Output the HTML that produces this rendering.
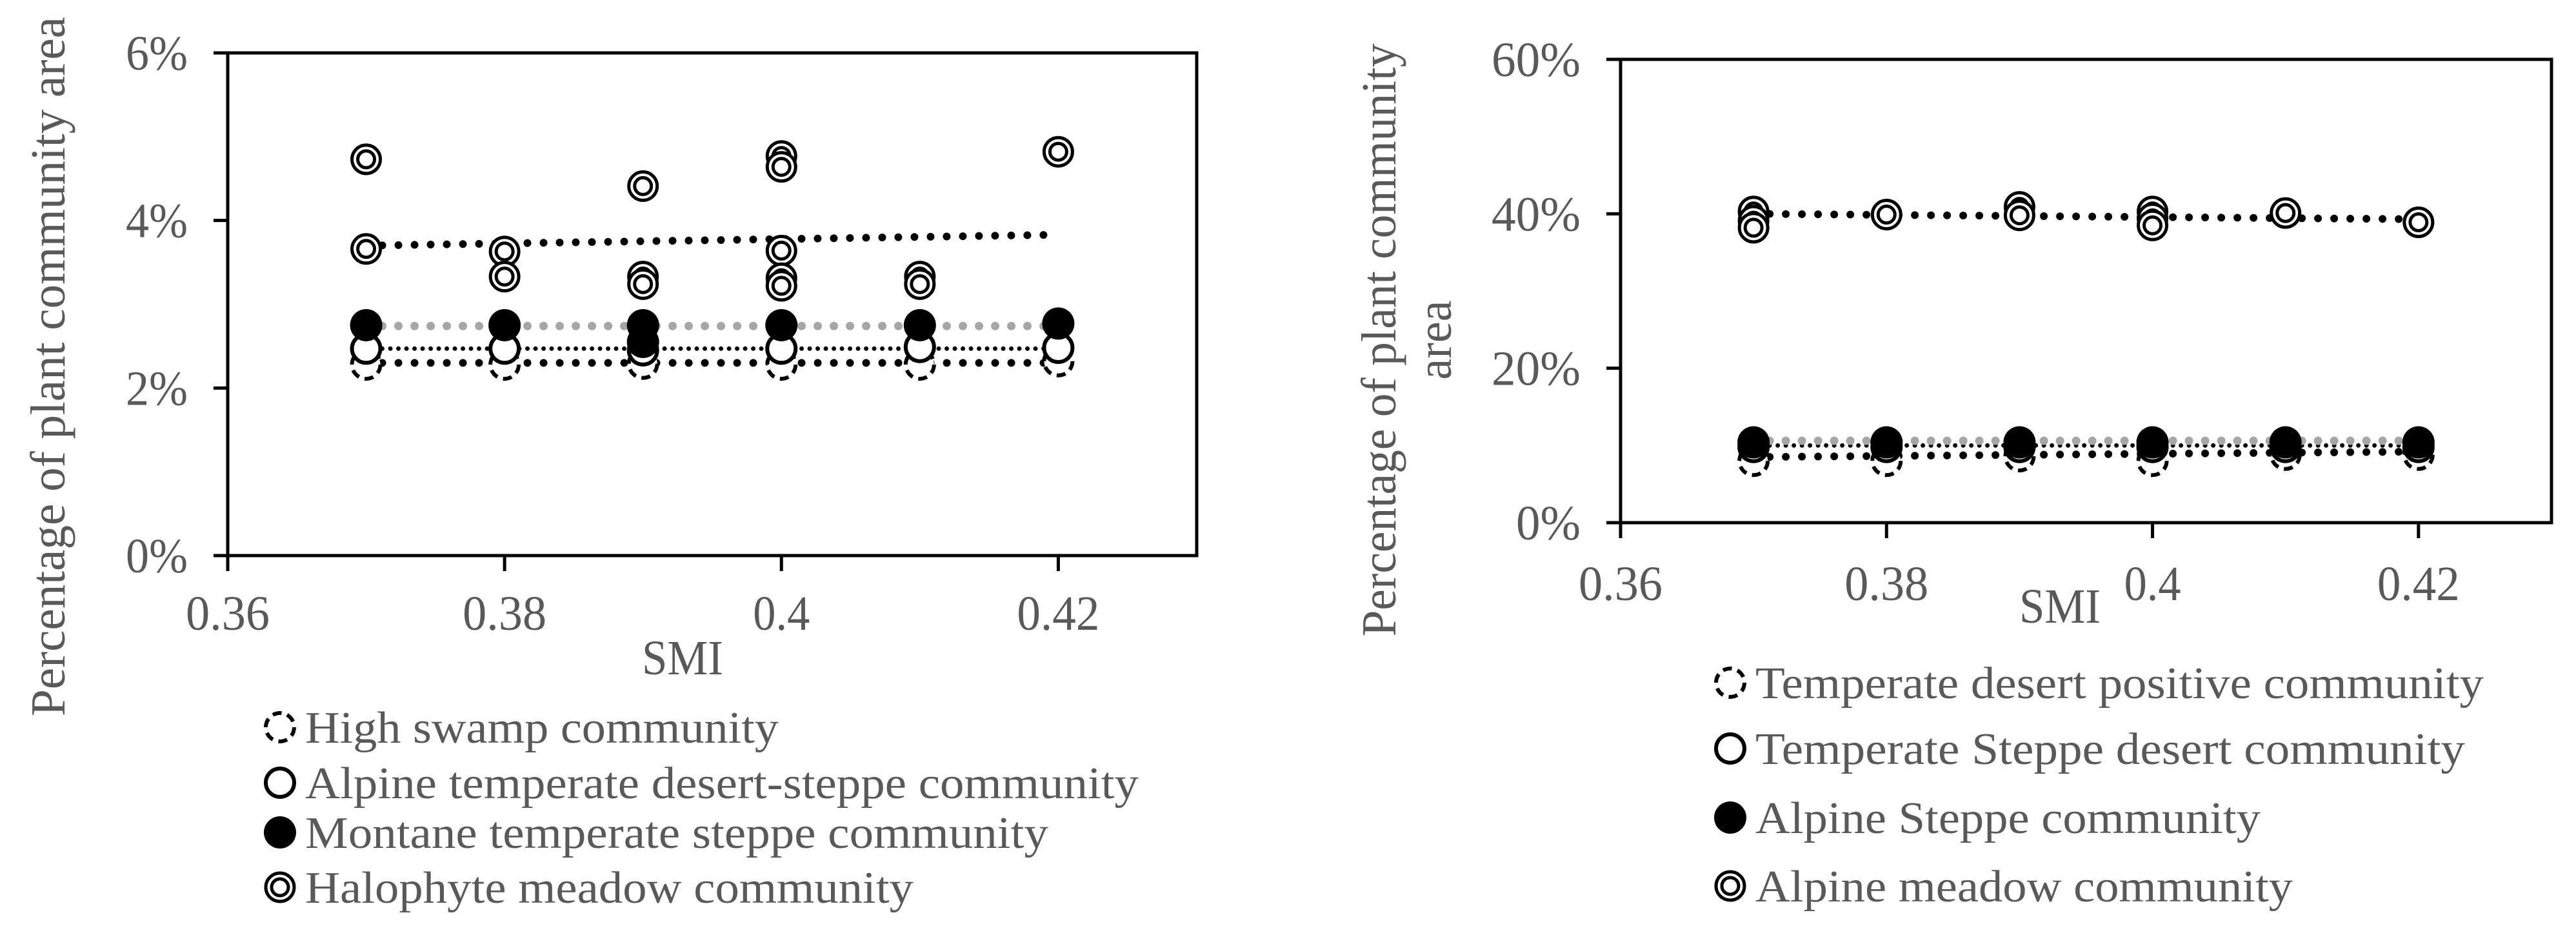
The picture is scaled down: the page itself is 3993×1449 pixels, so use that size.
<!DOCTYPE html>
<html><head><meta charset="utf-8"><style>
html,body{margin:0;padding:0;background:#fff;}
svg{display:block;}
text{font-family:"Liberation Serif",serif;fill:#595959;}
</style></head><body>
<svg id="fig" width="3993" height="1449" viewBox="0 0 3993 1449" xmlns="http://www.w3.org/2000/svg">
<g id="left"></g>
<g id="right"></g>
</svg>
<script>
// ---------- Left chart data ----------
const L_xTicks = [0.36, 0.38, 0.4, 0.42];
const L_xTickLabels = ["0.36", "0.38", "0.4", "0.42"];
const L_yTicks = [0, 2, 4, 6];
const L_yTickLabels = ["0%", "2%", "4%", "6%"];
const L_swampX = [0.37, 0.38, 0.39, 0.40, 0.41, 0.42];
const L_swampY = [2.28, 2.28, 2.29, 2.28, 2.28, 2.32];
const L_alpineX = [0.37, 0.38, 0.39, 0.40, 0.41, 0.42];
const L_alpineY = [2.47, 2.47, 2.45, 2.47, 2.49, 2.48];
const L_montaneX = [0.37, 0.38, 0.39, 0.39, 0.40, 0.41, 0.42];
const L_montaneY = [2.75, 2.75, 2.75, 2.55, 2.75, 2.75, 2.77];
const L_haloX = [0.37, 0.37, 0.38, 0.38, 0.39, 0.39, 0.39, 0.40, 0.40, 0.40, 0.40, 0.40, 0.41, 0.41, 0.42];
const L_haloY = [4.73, 3.66, 3.63, 3.33, 4.41, 3.33, 3.24, 4.77, 4.64, 3.64, 3.31, 3.22, 3.33, 3.24, 4.82];
const L_trendHalo = [3.70, 3.83];
const L_trendMontane = [2.74, 2.74];
const L_trendAlpine = [2.47, 2.47];
const L_trendSwamp = [2.30, 2.30];
const L_legend = ["High swamp community","Alpine temperate desert-steppe community","Montane temperate steppe community","Halophyte meadow community"];

// ---------- Right chart data ----------
const R_xTicks = [0.36, 0.38, 0.4, 0.42];
const R_xTickLabels = ["0.36", "0.38", "0.4", "0.42"];
const R_yTicks = [0, 20, 40, 60];
const R_yTickLabels = ["0%", "20%", "40%", "60%"];
const R_posX = [0.37, 0.38, 0.39, 0.40, 0.41, 0.42];
const R_posY = [8.0, 8.0, 8.6, 8.0, 8.8, 8.8];
const R_steppeDesX = [0.37, 0.38, 0.39, 0.40, 0.41, 0.42];
const R_steppeDesY = [9.8, 9.8, 9.8, 9.8, 9.8, 9.8];
const R_alpSteppeX = [0.37, 0.38, 0.39, 0.40, 0.41, 0.42];
const R_alpSteppeY = [10.4, 10.4, 10.4, 10.4, 10.4, 10.4];
const R_meadowX = [0.37, 0.37, 0.37, 0.38, 0.39, 0.39, 0.40, 0.40, 0.40, 0.41, 0.42];
const R_meadowY = [40.3, 39.1, 38.2, 39.9, 40.9, 39.8, 40.3, 39.4, 38.5, 40.1, 38.9];
const R_trendMeadow = [40.0, 39.3];
const R_trendAlpSteppe = [10.6, 10.6];
const R_trendSteppeDes = [10.0, 10.0];
const R_trendPos = [8.5, 9.2];
const R_legend = ["Temperate desert positive community","Temperate Steppe desert community","Alpine Steppe community","Alpine meadow community"];

const NS = "http://www.w3.org/2000/svg";
function mk(parent, tag, attrs, txt){
  const e = document.createElementNS(NS, tag);
  for (const k in attrs) e.setAttribute(k, attrs[k]);
  if (txt !== undefined) e.textContent = txt;
  parent.appendChild(e);
  return e;
}
function marker(g, type, cx, cy, r){
  const m = mk(g, "g", {});
  if (type === "dashed") {
    mk(m, "circle", {cx:cx, cy:cy, r:r-3, fill:"#fff", stroke:"#000", "stroke-width":6, "stroke-dasharray":"14 9"});
  } else if (type === "open") {
    mk(m, "circle", {cx:cx, cy:cy, r:r-3, fill:"#fff", stroke:"#000", "stroke-width":6});
  } else if (type === "filled") {
    mk(m, "circle", {cx:cx, cy:cy, r:r, fill:"#000"});
  } else {
    mk(m, "circle", {cx:cx, cy:cy, r:r-3, fill:"#fff", stroke:"#000", "stroke-width":5});
    mk(m, "circle", {cx:cx, cy:cy, r:r-12, fill:"none", stroke:"#000", "stroke-width":5});
  }
  return m;
}
function trend(g, sx, sy, x0, x1, ys, style){
  let a;
  if (style === "bold") a = {stroke:"#000", "stroke-width":12, "stroke-dasharray":"0 25", "stroke-linecap":"round"};
  else if (style === "grey") a = {stroke:"#a6a6a6", "stroke-width":13, "stroke-dasharray":"0 25", "stroke-linecap":"round"};
  else a = {stroke:"#000", "stroke-width":7, "stroke-dasharray":"0 12.5", "stroke-linecap":"round"};
  a.x1 = sx(x0); a.x2 = sx(x1); a.y1 = sy(ys[0]); a.y2 = sy(ys[1]); a.fill = "none";
  return mk(g, "line", a);
}

function chart(g, cfg){
  const sx = v => cfg.px0 + (v - cfg.xmin) / (cfg.xmax - cfg.xmin) * (cfg.px1 - cfg.px0);
  const sy = v => cfg.py0 - (v - cfg.ymin) / (cfg.ymax - cfg.ymin) * (cfg.py0 - cfg.py1);
  const frame = mk(g, "rect", {x:cfg.px0, y:cfg.py1, width:cfg.px1-cfg.px0, height:cfg.py0-cfg.py1, fill:"none", stroke:"#000", "stroke-width":5});
  
  
  cfg.yTicks.forEach((t,i)=>{
    const tk = mk(g, "line", {x1:cfg.px0-22, x2:cfg.px0, y1:sy(t), y2:sy(t), stroke:"#000", "stroke-width":5});
    
    
    const lb = mk(g, "text", {x:cfg.px0-62, y:sy(t)+26, "text-anchor":"end", "font-size":76, textLength:cfg.yLabW[i], lengthAdjust:"spacingAndGlyphs"}, cfg.yLabels[i]);
    
    
  });
  cfg.xTicks.forEach((t,i)=>{
    const tk = mk(g, "line", {x1:sx(t), x2:sx(t), y1:cfg.py0, y2:cfg.py0+24, stroke:"#000", "stroke-width":5});
    
    
    const lb = mk(g, "text", {x:sx(t), y:cfg.xLabelY, "text-anchor":"middle", "font-size":76, textLength:cfg.xLabW[i], lengthAdjust:"spacingAndGlyphs"}, cfg.xLabels[i]);
    
    
  });
  const xt = mk(g, "text", {x:cfg.xTitleX, y:cfg.xTitleY, "text-anchor":"middle", "font-size":76, textLength:126, lengthAdjust:"spacingAndGlyphs"}, "SMI");
  
  
  cfg.yTitle.forEach((ln,i)=>{
    const yt = mk(g, "text", {x:0, y:0, "text-anchor":"middle", "font-size":76, textLength:cfg.yTitleLen[i], lengthAdjust:"spacingAndGlyphs", transform:`translate(${cfg.yTitleX[i]},${cfg.yTitleY}) rotate(-90)`}, ln);
    
    
  });
  cfg.trends.forEach(tr=>{
    const l = trend(g, sx, sy, 0.37, 0.42, tr.ys, tr.style);
    
    
  });
  cfg.series.forEach(s=>{
    s.xs.forEach((x,i)=>{
      const m = marker(g, s.type, sx(x), sy(s.ys[i]), 25);
      
      
    });
  });
  cfg.legend.forEach((name,i)=>{
    const lg = mk(g, "g", {});
    
    
    const types = ["dashed","open","filled","double"];
    marker(lg, types[i], cfg.legX, cfg.legY[i], 25);
    mk(lg, "text", {x:cfg.legTextX, y:cfg.legY[i]+24, "font-size":70, textLength:cfg.legW[i], lengthAdjust:"spacingAndGlyphs"}, name);
  });
}

chart(document.getElementById("left"), {
  px0:353, px1:1855, py0:861, py1:82, xmin:0.36, xmax:0.43, ymin:0, ymax:6,
  xTicks:L_xTicks, xLabels:L_xTickLabels, yTicks:L_yTicks, yLabels:L_yTickLabels,
  yLabW:[96,96,96,96], xLabW:[130,130,88,128],
  xLabelY:976, xTitleX:1058, xTitleY:1045,
  yTitle:["Percentage of plant community area"], yTitleLen:[1084], yTitleX:[100], yTitleY:568,
  trends:[{ys:L_trendSwamp,style:"bold"},{ys:L_trendAlpine,style:"thin"},{ys:L_trendMontane,style:"grey"},{ys:L_trendHalo,style:"bold"}],
  series:[{type:"dashed",xs:L_swampX,ys:L_swampY},{type:"open",xs:L_alpineX,ys:L_alpineY},{type:"filled",xs:L_montaneX,ys:L_montaneY},{type:"double",xs:L_haloX,ys:L_haloY}],
  legend:L_legend, legX:434, legTextX:473, legY:[1127,1213,1290,1375], legW:[734,1292,1152,943]
});
chart(document.getElementById("right"), {
  px0:2512, px1:3955, py0:810, py1:92, xmin:0.36, xmax:0.43, ymin:0, ymax:60,
  xTicks:R_xTicks, xLabels:R_xTickLabels, yTicks:R_yTicks, yLabels:R_yTickLabels,
  yLabW:[100,138,138,138], xLabW:[130,130,88,128],
  xLabelY:930, xTitleX:3193, xTitleY:965,
  yTitle:["Percentage of plant community","area"], yTitleLen:[919,123], yTitleX:[2163,2249], yTitleY:527,
  trends:[{ys:R_trendPos,style:"bold"},{ys:R_trendSteppeDes,style:"thin"},{ys:R_trendAlpSteppe,style:"grey"},{ys:R_trendMeadow,style:"bold"}],
  series:[{type:"dashed",xs:R_posX,ys:R_posY},{type:"open",xs:R_steppeDesX,ys:R_steppeDesY},{type:"filled",xs:R_alpSteppeX,ys:R_alpSteppeY},{type:"double",xs:R_meadowX,ys:R_meadowY}],
  legend:R_legend, legX:2682, legTextX:2721, legY:[1058,1160,1267,1373], legW:[1129,1100,783,833]
});
</script>
</body></html>
